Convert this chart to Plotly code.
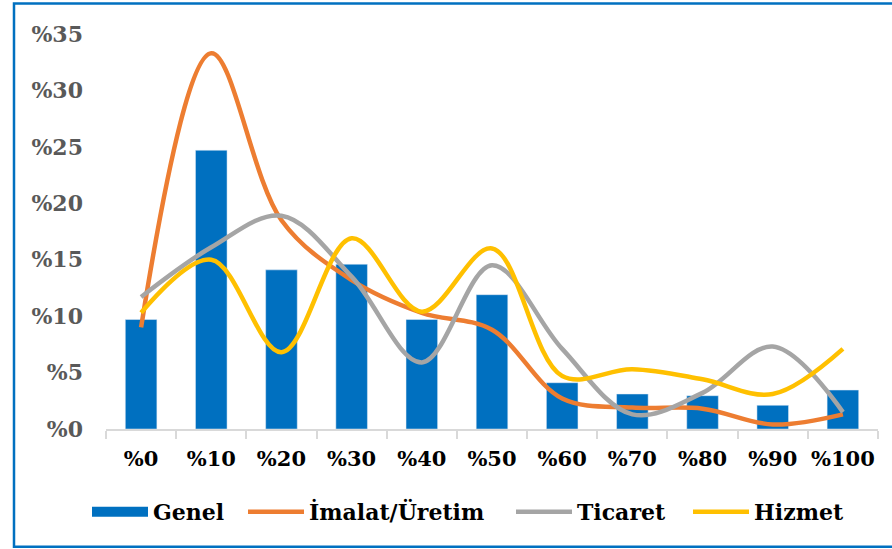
import plotly.graph_objects as go

categories = ["%0", "%10", "%20", "%30", "%40", "%50", "%60", "%70", "%80", "%90", "%100"]
genel = [9.7, 24.7, 14.1, 14.6, 9.7, 11.9, 4.1, 3.1, 2.95, 2.1, 3.45]
imalat = [9.0, 33.3, 18.5, 13.2, 10.3, 8.8, 2.7, 1.9, 1.8, 0.4, 1.3]
ticaret = [11.7, 16.1, 18.9, 13.5, 5.9, 14.5, 7.1, 1.3, 3.2, 7.3, 1.5]
hizmet = [10.3, 15.0, 6.8, 16.9, 10.4, 16.0, 4.7, 5.3, 4.4, 3.1, 7.1]

FONT = "DejaVu Serif"
BLUE = "#0070C0"
ORANGE = "#ED7D31"
GRAY = "#A5A5A5"
YELLOW = "#FFC000"

W, H = 892, 549
L, R, T, B = 106, 14, 33.5, 120
pw = W - L - R
ph = H - T - B


def px(x):
    return (x - L) / pw


def py(y):
    return (H - B - y) / ph


fig = go.Figure()
fig.add_trace(go.Bar(x=categories, y=genel, name="Genel", marker_color=BLUE,
                     showlegend=False, legendgroup="g"))
# legend proxy for the bar series (wide rectangle symbol)
fig.add_trace(go.Scatter(x=[None], y=[None], name="Genel", mode="lines",
                         line=dict(color=BLUE, width=14), legendgroup="g", legend="legend"))
for name, vals, col, lg in [("İmalat/Üretim", imalat, ORANGE, "legend2"),
                            ("Ticaret", ticaret, GRAY, "legend3"),
                            ("Hizmet", hizmet, YELLOW, "legend4")]:
    fig.add_trace(go.Scatter(x=categories, y=vals, name=name, mode="lines", legend=lg,
                             line=dict(color=col, width=4.5, shape="spline", smoothing=1.0)))

legend_font = dict(family=FONT, size=22, color="black", weight="bold")
symbol_starts = [92, 248, 516, 693]


def leg(xs):
    return dict(orientation="h", x=px(xs - 5), xanchor="left", y=py(512), yanchor="middle",
                font=legend_font, itemwidth=56, bgcolor="rgba(0,0,0,0)")


fig.update_layout(
    width=W, height=H,
    margin=dict(l=L, r=R, t=T, b=B, pad=0, autoexpand=False),
    paper_bgcolor="white", plot_bgcolor="white",
    bargap=0.55,
    font=dict(family=FONT, size=20, color="black"),
    showlegend=True,
    legend=leg(symbol_starts[0]),
    legend2=leg(symbol_starts[1]),
    legend3=leg(symbol_starts[2]),
    legend4=leg(symbol_starts[3]),
    xaxis=dict(type="category", showline=True, linecolor="#D9D9D9", linewidth=1.5,
               ticks="outside", tickson="boundaries", ticklen=8, tickcolor="#D9D9D9",
               tickwidth=1.5, showgrid=False, zeroline=False, tickangle=0, automargin=False,
               ticklabelstandoff=10,
               tickfont=dict(family=FONT, size=21, color="black", weight="bold")),
    yaxis=dict(range=[0, 35], dtick=5, tickprefix="%", showgrid=False, zeroline=False,
               showline=False, ticks="", ticklabelstandoff=22, automargin=False,
               tickfont=dict(family=FONT, size=22, color="#595959", weight="bold")),
    shapes=[dict(type="rect", xref="paper", yref="paper",
                 x0=px(14), x1=px(900), y0=py(547), y1=py(3),
                 line=dict(color=BLUE, width=2.5), fillcolor="rgba(0,0,0,0)", layer="below")],
)

fig.write_html("out.html", config={"displayModeBar": False},
               post_script="document.body.style.margin='0';")
